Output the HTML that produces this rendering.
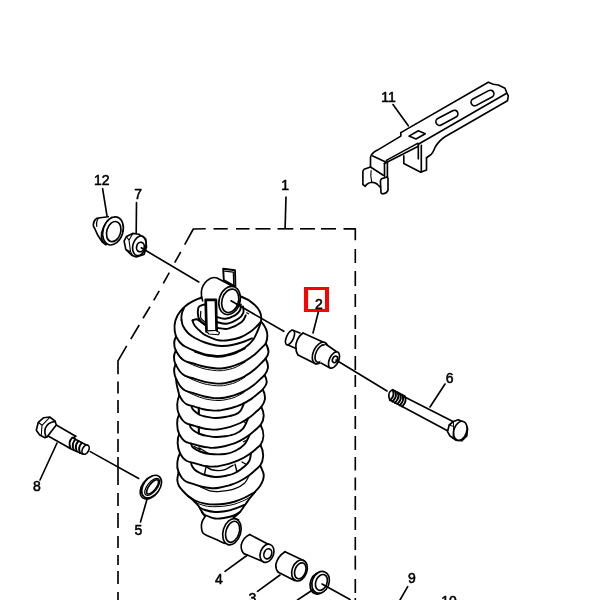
<!DOCTYPE html>
<html><head><meta charset="utf-8"><title>Rear shock absorber parts diagram</title>
<style>
html,body{margin:0;padding:0;background:#fff;}
svg{display:block}
.lb{font-family:"Liberation Sans",sans-serif;font-weight:400;fill:#000;stroke:#000;stroke-width:.55;stroke-linejoin:round}
</style></head><body>
<svg width="600" height="600" viewBox="0 0 600 600">
<rect width="600" height="600" fill="#fff"/>
<path d="M304 287H329V312H304Z M308.1 290V309H325V290Z" fill="#f00" fill-rule="evenodd"/>
<g style="filter:grayscale(1)" fill="none" stroke="#000" stroke-width="1.65" stroke-linecap="round" stroke-linejoin="round">
<g stroke-linecap="butt">
<line x1="213.5" y1="228.8" x2="227.7" y2="228.8"/>
<line x1="236.0" y1="228.8" x2="249.5" y2="228.8"/>
<line x1="255.5" y1="228.8" x2="270.5" y2="228.8"/>
<line x1="277.5" y1="228.8" x2="293.3" y2="228.8"/>
<line x1="300.0" y1="228.8" x2="315.0" y2="228.8"/>
<line x1="321.0" y1="228.8" x2="336.0" y2="228.8"/>
<path d="M343.5 228.8 L355.3 228.8 L355.3 240.3" fill="none" />
<line x1="355.3" y1="249.0" x2="355.3" y2="263.0"/>
<line x1="355.3" y1="271.0" x2="355.3" y2="286.0"/>
<line x1="355.3" y1="294.0" x2="355.3" y2="307.0"/>
<line x1="355.3" y1="315.0" x2="355.3" y2="329.0"/>
<line x1="355.3" y1="335.0" x2="355.3" y2="349.0"/>
<line x1="355.3" y1="356.0" x2="355.3" y2="370.0"/>
<line x1="355.3" y1="375.0" x2="355.3" y2="387.0"/>
<line x1="355.3" y1="395.0" x2="355.3" y2="409.0"/>
<line x1="355.3" y1="416.0" x2="355.3" y2="429.0"/>
<line x1="355.3" y1="436.0" x2="355.3" y2="450.0"/>
<line x1="355.3" y1="457.0" x2="355.3" y2="470.5"/>
<line x1="355.3" y1="477.5" x2="355.3" y2="490.3"/>
<line x1="355.3" y1="496.0" x2="355.3" y2="510.0"/>
<line x1="355.3" y1="517.0" x2="355.3" y2="530.0"/>
<line x1="355.3" y1="537.0" x2="355.3" y2="550.0"/>
<line x1="355.3" y1="555.7" x2="355.3" y2="569.7"/>
<line x1="355.3" y1="579.0" x2="355.3" y2="593.0"/>
<line x1="355.3" y1="598.0" x2="355.3" y2="600.0"/>
<path d="M205.7 228.8 L193.3 229 L184.7 244.7" fill="none" />
<line x1="180.7" y1="252.0" x2="174.7" y2="262.7"/>
<line x1="169.3" y1="272.7" x2="163.3" y2="283.3"/>
<line x1="159.2" y1="290.8" x2="153.7" y2="300.3"/>
<line x1="150.0" y1="306.7" x2="143.0" y2="318.3"/>
<line x1="139.2" y1="325.0" x2="130.8" y2="339.2"/>
<path d="M126.7 345.8 L118 360.8 L118 374.2" fill="none" />
<line x1="118.0" y1="381.5" x2="118.0" y2="393.6"/>
<line x1="118.0" y1="400.0" x2="118.0" y2="413.0"/>
<line x1="118.0" y1="421.0" x2="118.0" y2="433.6"/>
<line x1="118.0" y1="439.0" x2="118.0" y2="452.0"/>
<line x1="118.0" y1="457.0" x2="118.0" y2="485.0"/>
<line x1="118.0" y1="493.0" x2="118.0" y2="506.0"/>
<line x1="118.0" y1="513.0" x2="118.0" y2="528.0"/>
<line x1="118.0" y1="536.0" x2="118.0" y2="548.0"/>
<line x1="118.0" y1="555.0" x2="118.0" y2="565.0"/>
<line x1="118.0" y1="571.0" x2="118.0" y2="584.0"/>
<line x1="118.0" y1="592.0" x2="118.0" y2="600.0"/>
<line x1="286.0" y1="196.5" x2="285.1" y2="228.8"/>
</g>
<path d="M400.8 132.6 L488.3 82.2 L493.3 84.2 L498.3 85 L505 88.3 L506.7 92.5 L508.3 95.8 L507.5 100.8 L445 136.7 Q438.5 141 435 147.5 Q432.5 154 430 155.3 L426.5 157.7" fill="none" />
<path d="M506.7 93.3 L418.3 144.3" fill="none" />
<path d="M400.8 132.6 L400.8 136.1 L377.5 150.1 Q371 153.5 370.5 157.5 L370.5 167" fill="none" />
<path d="M372.8 155.9 L385.6 162 M384.5 163.6 L418.3 146.2" fill="none" />
<path d="M386.3 160.4 L418 143.2" fill="none" stroke-width="1.5" />
<path d="M384.5 163.2 L384.5 176.3" fill="none" />
<path d="M387.4 161.2 L387.4 177" fill="none" />
<path d="M370.5 167 L383.3 175.2" fill="none" />
<path d="M418.3 144.3 L418.3 158.8" fill="none" />
<path d="M421.3 145.4 L421.3 171.7" fill="none" />
<path d="M403.8 155.9 L403.8 163.5 L420.7 172.3 L426.5 169.9 L426.5 157.7" fill="none" />
<path d="M409 136.1 L418.3 130.8 L425.3 133.8 L416 139 Z" fill="none" />
<rect x="470.0" y="94.4" width="25" height="7.2" rx="3.6" ry="3.6" fill="none" transform="rotate(-28 482.5 98)"/>
<rect x="434.9" y="114.2" width="24" height="7.2" rx="3.6" ry="3.6" fill="none" transform="rotate(-28 446.9 117.8)"/>
<path d="M370.5 167 L364.1 169.3 Q362.9 170.3 362.9 171.7 L362.9 184.5 L365.3 186.3 Q366.5 183.3 371.7 182.2 Q376 182.5 377.5 184.5 L381 188" fill="none" />
<path d="M371.1 170.5 Q370.2 176.3 371.7 182.2" fill="none" stroke-width="1.1" />
<path d="M381.6 178.7 L387.4 176.9 Q388.2 178 388 179.8 L388 190.3 Q386.5 193.3 383.3 193.8 Q381.3 193.8 381 192.7 L380.4 181 Q380.6 179.3 381.6 178.7 Z" fill="#fff" />
<text x="388.5" y="102.0" font-size="14" text-anchor="middle" class="lb">11</text>
<line x1="393.0" y1="104.5" x2="408.3" y2="125.8"/>
<text x="101.8" y="185.4" font-size="14" text-anchor="middle" class="lb">12</text>
<line x1="102.6" y1="188.7" x2="107.0" y2="215.8"/>
<path d="M108.3 216.7 L100.2 217.8 L96.7 218.4 Q93.6 220.5 93.3 224.5 Q93.3 227 94.5 228 L97.8 235.3 L102.5 242.3 L106 244.5" fill="none" />
<path d="M98 219 Q95.8 222 96.7 226.5" fill="none" stroke-width="1.1" />
<path d="M111.8 217.3 Q104 223 101.6 233 Q100.5 241.5 106 244.7" fill="none" />
<ellipse cx="113.0" cy="230.9" rx="9.9" ry="14.4" fill="#fff" transform="rotate(17 113.0 230.9)"/>
<ellipse cx="113.7" cy="231.6" rx="6.9" ry="10.3" fill="none" transform="rotate(17 113.7 231.6)"/>
<text x="138.2" y="199.0" font-size="14" text-anchor="middle" class="lb">7</text>
<line x1="136.5" y1="202.5" x2="136.2" y2="233.0"/>
<path d="M132.8 233.4 L138.7 234.2 L145.7 238.9 L146.5 247 L144 254.5 L136.3 257 L131.7 255.2 L125.8 249.4 L124.1 241.2 L126.4 236.5 Z" fill="#fff" />
<path d="M126.4 236.5 L129 240.3 L132.8 233.4 M129 240.3 L130.5 251.8 L125.8 249.4 M130.5 251.8 L133 256" fill="none" stroke-width="1.1" />
<ellipse cx="139.3" cy="245.8" rx="6.4" ry="10.0" fill="#fff" transform="rotate(15 139.3 245.8)"/>
<ellipse cx="140.4" cy="247.0" rx="3.8" ry="4.8" fill="none" transform="rotate(15 140.4 247.0)"/>
<line x1="141.2" y1="247.8" x2="198.8" y2="282.0"/>
<path d="M205 516.5 L236 517.5 L241 534 L223.7 543.2 L204.4 534.8 Z" fill="#fff" stroke="none"/>
<path d="M205.0 516.5 C204.5 517.4 202.6 520.1 202.0 522.0 C201.4 523.9 201.3 526.2 201.5 528.0 C201.7 529.8 201.9 531.7 203.0 533.0 C204.1 534.3 206.0 535.0 208.0 536.0 C210.0 537.0 212.2 537.8 215.0 539.0 C217.8 540.2 222.9 542.6 224.5 543.3" fill="none" />
<path d="M233 518 L238.5 519.8" fill="none" />
<ellipse cx="231.9" cy="531.8" rx="8.8" ry="13.4" fill="#fff" transform="rotate(17 231.9 531.8)"/>
<ellipse cx="232.6" cy="531.8" rx="6.6" ry="10.8" fill="none" transform="rotate(17 232.6 531.8)"/>
<g stroke-width="1.9">
<path d="M 183 309 Q 174 318 174.5 330 L 176.5 480 Q 179 490 189 497 L 207 517 L 235 516 L 251 497 Q 262 487 264 477 L 266.5 325 Q 262 305 245 300 Q 215 290 183 309 Z" fill="#fff" stroke="none"/>
<path d="M176 336.5 Q172.3 325 177.5 315.5 Q186 301 206 296.5" fill="none" />
<path d="M181.5 320.0 C181.8 321.0 181.9 323.8 183.0 326.0 C184.1 328.2 186.0 331.0 188.0 333.0 C190.0 335.0 192.2 336.4 195.0 338.0 C197.8 339.6 201.7 341.3 205.0 342.5 C208.3 343.7 212.2 344.7 215.0 345.3 C217.8 345.9 219.2 346.1 222.0 346.0 C224.8 345.9 228.5 345.7 232.0 345.0 C235.5 344.3 239.7 343.1 243.0 342.0 C246.3 340.9 250.5 338.9 252.0 338.3" fill="none" />
<path d="M181.5 320 Q180.8 314 183.8 308.6" fill="none" />
<path d="M192.5 320.3 C192.6 320.7 192.8 321.7 193.2 322.6 C193.6 323.6 193.9 324.6 195.0 326.0 C196.1 327.4 198.3 329.5 200.0 331.0 C201.7 332.5 202.5 333.6 205.0 335.0 C207.5 336.4 212.5 338.4 215.0 339.3 C217.5 340.2 217.8 340.3 220.0 340.5 C222.2 340.7 224.7 340.8 228.0 340.3 C231.3 339.8 236.3 338.9 240.0 337.5 C243.7 336.1 247.2 333.9 250.0 332.0 C252.8 330.1 255.2 327.8 257.0 326.0 C258.8 324.2 260.3 322.2 261.0 321.5" fill="none" />
<path d="M261 321.5 Q262.8 312 254 304.2 Q248 299 241 296.5" fill="none" />
<path d="M192.5 320.3 C193.2 320.1 195.3 319.0 196.7 319.3 C198.1 319.6 199.5 321.0 201.0 322.0 C202.5 323.0 204.8 324.8 205.5 325.3" fill="none" />
<path d="M205.0 304.5 C204.4 304.6 202.6 304.8 201.5 305.3 C200.4 305.9 198.8 305.9 198.3 307.8 C197.8 309.8 197.7 314.6 198.3 317.0 C198.9 319.4 200.5 320.7 201.7 322.0 C202.9 323.3 204.9 324.2 205.5 324.6" fill="none" />
<path d="M200.8 311.5 C200.8 312.6 200.0 316.2 200.8 318.0 C201.6 319.8 204.7 321.7 205.5 322.4" fill="none" stroke-width="1.3" />
<path d="M216.7 317.0 C218.1 317.3 221.9 319.0 225.0 318.7 C228.1 318.4 232.5 316.7 235.0 315.3 C237.5 313.9 239.0 312.1 240.0 310.3 C241.0 308.5 240.7 305.5 240.8 304.5" fill="none" />
<path d="M216.7 322.0 C218.4 322.3 223.1 324.2 226.7 323.7 C230.3 323.1 235.5 320.5 238.3 318.7 C241.1 316.9 242.5 314.8 243.3 312.8 C244.1 310.8 243.1 307.6 243.0 306.5" fill="none" />
<path d="M216.7 327.8 C218.6 327.9 224.1 329.7 228.3 328.7 C232.5 327.7 238.8 324.2 241.7 322.0 C244.6 319.8 245.1 316.4 245.8 315.3" fill="none" />
<path d="M246.7 312.8 L248.5 313.8" fill="none" stroke-width="1.2" />
<path d="M176.0 336.5 C176.7 337.5 178.5 340.8 180.0 342.5 C181.5 344.2 182.5 345.1 185.0 346.5 C187.5 347.9 191.7 349.7 195.0 351.0 C198.3 352.3 201.7 353.5 205.0 354.3 C208.3 355.1 212.8 355.5 215.0 355.8 C217.2 356.1 216.3 356.1 218.0 356.0 C219.7 355.9 222.2 355.8 225.0 355.2 C227.8 354.6 231.7 353.8 235.0 352.5 C238.3 351.2 242.0 349.6 245.0 347.5 C248.0 345.4 250.8 342.9 253.0 340.0 C255.2 337.1 256.7 333.0 258.0 330.0 C259.3 327.0 260.5 323.3 261.0 322.0" fill="none" />
<path d="M195.0 352.0 C196.7 352.6 201.7 354.5 205.0 355.3 C208.3 356.1 212.8 356.5 215.0 356.8 C217.2 357.1 216.3 357.1 218.0 357.0 C219.7 356.9 222.2 356.8 225.0 356.2 C227.8 355.6 231.7 354.8 235.0 353.5 C238.3 352.2 243.3 349.3 245.0 348.5" fill="none" stroke-width="1.4" />
<path d="M176.0 336.5 C173.6 341.0 173.0 344.5 175.8 350.5" fill="none" />
<path d="M175.8 350.5 C176.5 351.6 178.5 355.2 180.0 357.0 C181.5 358.7 182.5 359.8 185.0 361.0 C187.5 362.2 191.7 363.0 195.0 364.0 C198.3 365.0 201.6 366.1 205.0 366.8 C208.3 367.5 212.5 368.0 215.0 368.3 C217.5 368.6 218.3 368.6 220.0 368.5 C221.7 368.4 222.5 368.5 225.0 368.0 C227.5 367.5 231.7 366.5 235.0 365.4 C238.4 364.2 241.7 363.0 245.0 361.1 C248.3 359.3 252.0 356.7 255.0 354.3 C258.0 351.8 261.2 348.2 263.0 346.4 C264.8 344.7 265.3 344.0 265.8 343.5 C268.2 337.5 268 329.5 261.8 322.3" fill="none" />
<path d="M185.0 361.2 C186.7 362.0 191.7 364.5 195.0 365.8 C198.3 367.1 201.6 368.2 205.0 369.0 C208.3 369.8 212.5 370.2 215.0 370.5 C217.5 370.8 218.3 370.8 220.0 370.7 C221.7 370.6 222.5 370.7 225.0 370.2 C227.5 369.7 231.7 368.9 235.0 367.6 C238.4 366.2 243.3 363.1 245.0 362.2" fill="none" stroke-width="1.0" />
<path d="M175.8 350.5 C173.4 355.0 172.8 358.5 175.6 364.5" fill="none" />
<path d="M175.6 364.5 C176.3 365.6 178.3 369.5 179.8 371.4 C181.4 373.3 182.3 374.4 184.8 375.6 C187.3 376.9 191.5 377.8 194.9 378.8 C198.2 379.9 201.6 381.0 204.9 381.8 C208.3 382.6 212.5 383.1 215.0 383.4 C217.5 383.7 218.3 383.6 220.0 383.6 C221.7 383.6 222.5 383.6 225.0 383.1 C227.5 382.6 231.6 381.6 235.0 380.5 C238.3 379.3 241.6 378.1 244.9 376.2 C248.2 374.4 251.9 371.8 254.8 369.3 C257.8 366.9 261.0 363.3 262.8 361.5 C264.6 359.7 265.1 359.0 265.6 358.5 C268.8 354.0 270.0 351.5 265.8 343.5" fill="none" />
<path d="M184.8 375.8 C186.5 376.6 191.5 379.3 194.9 380.6 C198.2 382.0 201.6 383.2 204.9 384.0 C208.3 384.8 212.5 385.3 215.0 385.6 C217.5 385.9 218.3 385.8 220.0 385.8 C221.7 385.8 222.5 385.8 225.0 385.3 C227.5 384.8 231.6 384.0 235.0 382.7 C238.3 381.3 243.2 378.2 244.9 377.3" fill="none" stroke-width="1.0" />
<path d="M175.6 364.5 C173.2 369.0 173.5 373.5 176.3 379.5" fill="none" />
<path d="M176.3 379.5 C177.0 380.6 178.9 384.5 180.4 386.3 C181.8 388.1 182.8 389.2 185.2 390.5 C187.6 391.7 191.6 392.6 194.8 393.6 C198.0 394.6 201.3 395.8 204.5 396.5 C207.7 397.3 211.8 397.8 214.2 398.1 C216.6 398.4 217.4 398.3 219.0 398.3 C220.6 398.3 221.5 398.3 224.0 397.8 C226.5 397.3 230.6 396.5 234.0 395.4 C237.3 394.3 240.6 393.2 243.9 391.4 C247.2 389.7 250.9 387.3 253.8 385.0 C256.8 382.8 260.0 379.4 261.8 377.7 C263.6 376.1 264.1 375.5 264.6 375.0 C267.8 370.5 269.8 366.5 265.6 358.5" fill="none" />
<path d="M185.2 390.6 C186.8 391.4 191.6 394.0 194.8 395.3 C198.0 396.7 201.3 397.9 204.5 398.7 C207.7 399.6 211.8 400.0 214.2 400.3 C216.6 400.6 217.4 400.5 219.0 400.5 C220.6 400.5 221.5 400.5 224.0 400.0 C226.5 399.5 230.6 398.8 234.0 397.6 C237.3 396.3 242.2 393.4 243.9 392.6" fill="none" stroke-width="1.0" />
<path d="M176.3 379.5 C175.7 384.0 178.3 389.6 179.3 395.6" fill="none" />
<path d="M179.3 395.6 C179.9 396.5 181.5 399.6 182.8 401.0 C184.1 402.5 184.9 403.4 186.9 404.3 C189.0 405.3 192.5 406.0 195.2 406.9 C198.0 407.7 200.8 408.6 203.5 409.2 C206.3 409.8 209.8 410.2 211.9 410.4 C213.9 410.7 214.5 410.6 216.0 410.6 C217.5 410.6 218.5 410.6 221.1 410.2 C223.7 409.7 227.9 408.9 231.4 408.0 C234.8 407.0 238.2 406.0 241.6 404.4 C245.0 402.8 248.7 400.7 251.8 398.6 C254.8 396.5 258.1 393.5 259.9 392.0 C261.8 390.5 262.3 389.9 262.8 389.5 C266.0 385.0 268.8 383.0 264.6 375.0" fill="none" />
<path d="M179.3 395.6 C176.9 400.1 176.2 408.6 179.0 414.6" fill="none" />
<path d="M179.0 414.6 C179.6 415.5 181.2 418.6 182.4 420.0 C183.7 421.5 184.5 422.4 186.5 423.3 C188.5 424.3 191.9 425.0 194.6 425.9 C197.3 426.7 200.0 427.6 202.8 428.2 C205.5 428.8 208.9 429.2 210.9 429.4 C213.0 429.7 213.5 429.6 215.0 429.6 C216.5 429.6 217.5 429.6 220.0 429.1 C222.6 428.7 226.8 427.8 230.2 426.8 C233.6 425.7 236.9 424.6 240.3 423.0 C243.6 421.3 247.3 419.0 250.4 416.7 C253.4 414.5 256.7 411.3 258.5 409.7 C260.3 408.0 260.8 407.4 261.3 407.0 C264.5 402.5 267.0 397.5 262.8 389.5" fill="none" />
<path d="M179.0 414.6 C176.6 419.1 176.4 428.2 179.2 434.2" fill="none" />
<path d="M179.2 434.2 C179.8 435.0 181.3 437.8 182.5 439.1 C183.7 440.4 184.5 441.2 186.4 442.1 C188.4 443.0 191.7 443.7 194.3 444.4 C196.9 445.1 199.5 446.0 202.2 446.5 C204.8 447.1 208.1 447.4 210.1 447.7 C212.0 447.9 212.5 447.9 214.0 447.8 C215.5 447.7 216.5 447.8 219.1 447.3 C221.6 446.9 225.9 446.0 229.3 444.9 C232.7 443.9 236.1 442.8 239.4 441.1 C242.8 439.4 246.6 437.1 249.6 434.8 C252.7 432.6 255.9 429.3 257.8 427.7 C259.6 426.1 260.1 425.4 260.6 425.0 C263.8 420.5 265.5 415.0 261.3 407.0" fill="none" />
<path d="M179.2 434.2 C176.8 438.7 177.2 447.2 180.0 453.2" fill="none" />
<path d="M180.0 453.2 C180.5 454.0 182.0 456.7 183.1 458.0 C184.3 459.3 185.0 460.1 186.9 461.0 C188.7 461.9 191.8 462.5 194.3 463.2 C196.8 464.0 199.3 464.8 201.8 465.3 C204.3 465.9 207.4 466.2 209.3 466.5 C211.1 466.7 211.5 466.6 213.0 466.6 C214.5 466.6 215.6 466.6 218.2 466.2 C220.8 465.7 225.1 464.9 228.6 463.9 C232.0 462.9 235.5 461.8 238.9 460.2 C242.4 458.7 246.2 456.4 249.3 454.3 C252.4 452.2 255.7 449.1 257.6 447.5 C259.5 446.0 260.0 445.4 260.5 445.0 C263.7 440.5 264.8 433.0 260.6 425.0" fill="none" />
<path d="M180.0 453.2 C177.6 457.7 175.8 466.2 178.6 472.2" fill="none" />
<path d="M178.6 472.2 C179.2 473.2 180.7 476.4 182.0 478.0 C183.2 479.5 184.0 480.5 186.0 481.5 C188.0 482.6 191.3 483.3 194.0 484.2 C196.6 485.1 199.3 486.1 202.0 486.7 C204.6 487.3 208.0 487.8 210.0 488.0 C212.0 488.3 212.5 488.2 214.0 488.2 C215.5 488.2 216.5 488.2 219.0 487.7 C221.6 487.3 225.8 486.4 229.2 485.4 C232.5 484.3 235.9 483.2 239.2 481.5 C242.6 479.8 246.3 477.5 249.3 475.3 C252.3 473.1 255.6 469.8 257.4 468.2 C259.2 466.5 259.7 465.9 260.2 465.5 C263.4 461.0 264.7 453.0 260.5 445.0" fill="none" />
<path d="M191.5 406.0 C191.6 406.4 191.7 407.6 192.3 408.5 C192.9 409.4 193.7 410.4 195.0 411.5 C196.3 412.6 198.3 414.2 200.0 415.0 C201.7 415.8 202.5 416.0 205.0 416.5 C207.5 417.0 211.7 417.9 215.0 418.0 C218.3 418.1 221.7 417.6 225.0 417.0 C228.3 416.4 232.4 415.6 235.0 414.6 C237.6 413.6 239.0 412.7 240.5 410.8 C242.0 408.9 243.4 404.6 244.0 403.3" fill="none" />
<line x1="198.8" y1="407.8" x2="198.8" y2="414.3" stroke-width="2.1"/>
<path d="M189.8 424.7 C190.0 425.2 190.1 426.9 191.0 428.0 C191.9 429.1 193.5 430.5 195.0 431.5 C196.5 432.5 198.3 433.3 200.0 434.0 C201.7 434.7 202.5 435.0 205.0 435.5 C207.5 436.0 211.7 436.9 215.0 437.0 C218.3 437.1 221.7 436.8 225.0 436.3 C228.3 435.8 232.0 435.3 235.0 434.0 C238.0 432.7 240.8 431.2 243.0 428.6 C245.2 426.0 247.2 420.2 248.0 418.5" fill="none" />
<line x1="198.8" y1="427.0" x2="198.8" y2="433.6" stroke-width="2.1"/>
<path d="M243.8 421.8 L246.6 423.2" fill="none" stroke-width="1.2" />
<path d="M191.0 443.7 C191.3 444.4 191.5 446.2 193.0 447.5 C194.5 448.8 197.2 450.4 200.0 451.5 C202.8 452.6 205.8 453.6 210.0 454.0 C214.2 454.4 220.8 454.5 225.0 454.0 C229.2 453.5 231.8 452.6 235.0 451.0 C238.2 449.4 242.1 446.9 244.5 444.3 C246.9 441.7 248.7 436.7 249.5 435.2" fill="none" />
<path d="M194 446.2 L200 449.8 M199 447.7 L208 453.2" fill="none" stroke-width="1.3" />
<path d="M243.5 441.8 L247 440" fill="none" stroke-width="1.2" />
<path d="M191.0 462.6 C191.2 463.1 191.3 464.8 192.0 466.0 C192.7 467.2 193.7 468.8 195.0 470.0 C196.3 471.2 198.3 472.2 200.0 473.0 C201.7 473.8 202.5 474.3 205.0 475.0 C207.5 475.7 211.7 476.8 215.0 477.0 C218.3 477.2 221.7 476.7 225.0 476.0 C228.3 475.3 231.7 474.7 235.0 473.0 C238.3 471.3 242.6 468.1 245.0 466.0 C247.4 463.9 248.5 462.6 249.5 460.5 C250.5 458.4 250.8 454.4 251.0 453.2" fill="none" />
<path d="M206 466.8 L204.5 474.5 M235 464.3 L237 472 M242 462 L246.5 464.5" fill="none" stroke-width="1.4" />
<path d="M207.0 467.2 C207.7 467.6 209.2 468.9 211.0 469.5 C212.8 470.1 215.7 470.6 218.0 470.6 C220.3 470.6 222.5 470.5 225.0 469.6 C227.5 468.7 231.7 466.0 233.0 465.3" fill="none" stroke-width="1.4" />
<path d="M199.0 486.1 C200.8 486.9 206.5 489.9 210.0 490.8 C213.5 491.7 215.8 491.8 220.0 491.4 C224.2 491.0 230.9 490.0 235.0 488.6 C239.1 487.2 242.2 485.4 244.5 483.3 C246.8 481.2 248.2 477.0 249.0 475.8" fill="none" stroke-width="1.2" />
<path d="M178.6 472.2 C178.4 473.5 177.2 477.7 177.3 480.0 C177.4 482.3 178.1 484.2 179.0 486.0 C179.9 487.8 181.5 489.3 183.0 491.0 C184.5 492.7 186.3 494.5 188.0 496.0 C189.7 497.5 191.2 498.2 193.0 500.0 C194.8 501.8 197.8 504.9 199.0 506.5 C200.2 508.1 199.5 507.9 200.5 509.5 C201.5 511.1 204.2 515.1 205.0 516.2" fill="none" />
<path d="M260.2 465.5 C260.8 466.9 263.1 471.6 263.6 474.0 C264.1 476.4 263.6 478.0 263.0 480.0 C262.4 482.0 261.3 484.0 260.0 486.0 C258.7 488.0 256.7 490.0 255.0 492.0 C253.3 494.0 251.7 495.8 250.0 498.0 C248.3 500.2 246.7 502.7 245.0 505.0 C243.3 507.3 241.8 509.9 240.0 512.0 C238.2 514.1 235.0 516.6 234.0 517.5" fill="none" />
<path d="M188.0 496.0 C189.2 496.8 192.2 499.2 195.0 500.5 C197.8 501.8 201.7 502.9 205.0 503.6 C208.3 504.3 211.7 504.5 215.0 504.5 C218.3 504.5 221.7 504.3 225.0 503.8 C228.3 503.3 231.7 502.6 235.0 501.5 C238.3 500.4 241.7 499.1 245.0 497.5 C248.3 495.9 253.3 492.9 255.0 492.0" fill="none" />
<path d="M194.0 502.0 C195.8 502.6 201.5 505.0 205.0 505.8 C208.5 506.6 211.7 506.7 215.0 506.7 C218.3 506.7 221.7 506.4 225.0 506.0 C228.3 505.6 231.7 505.0 235.0 504.0 C238.3 503.0 242.3 501.2 245.0 500.0 C247.7 498.8 250.0 497.1 251.0 496.5" fill="none" stroke-width="1.0" />
<path d="M199.5 507.5 C200.4 507.9 202.4 509.2 205.0 510.0 C207.6 510.8 211.7 511.8 215.0 512.0 C218.3 512.2 221.7 511.9 225.0 511.3 C228.3 510.8 231.8 509.8 235.0 508.7 C238.2 507.6 242.9 505.6 244.5 505.0" fill="none" />
<path d="M202.0 512.5 C202.5 512.9 202.8 514.0 205.0 515.0 C207.2 516.0 211.7 518.0 215.0 518.5 C218.3 519.0 221.8 518.3 225.0 517.8 C228.2 517.3 231.5 516.5 234.0 515.5 C236.5 514.5 239.0 512.6 240.0 512.0" fill="none" />
</g>
<path d="M217 278 L232.5 286.3 L229 314 L206 305 L202.5 300 L202 288 L208 280 Z" fill="#fff" stroke="none"/>
<path d="M223.2 268.7 L235 270.2 L235.4 286.5 L223.8 280.2 Z" fill="#fff" stroke-width="1.9" />
<path d="M224.6 271.2 L233.3 272.2 L233.7 284.5" fill="none" stroke-width="1.2" />
<path d="M232.6 286.3 L217 278 C210.5 275.8 202.3 282.5 201.4 291.5 Q201 297 202.6 300.8" fill="none" />
<ellipse cx="229.6" cy="300.5" rx="10.4" ry="14.4" fill="#fff" transform="rotate(17 229.6 300.5)"/>
<ellipse cx="230.2" cy="300.8" rx="8.2" ry="12.0" fill="none" transform="rotate(17 230.2 300.8)"/>
<path d="M205.7 299.8 L215.9 299.8 L216.6 331 L206.5 331.5 Z" fill="#fff" stroke-width="2.7" />
<path d="M216.5 331 L219.5 332.5 L218.5 334.8 L209 334 L206.6 331.6" fill="#fff" stroke-width="1.1" />
<line x1="231.0" y1="300.8" x2="283.8" y2="331.3"/>
<text x="319.0" y="308.5" font-size="14" text-anchor="middle" class="lb">2</text>
<line x1="318.3" y1="312.3" x2="313.0" y2="333.0"/>
<path d="M292 330 L300 333 L296 348.4 L288 345 Z" fill="#fff" stroke="none"/>
<path d="M292 330 L300 333" fill="none" />
<path d="M288 345 L296 348.4" fill="none" />
<ellipse cx="290.0" cy="337.6" rx="3.5" ry="7.9" fill="#fff" transform="rotate(25 290.0 337.6)"/>
<path d="M303 333 L324 342.4 L316 364 L298 355 Z" fill="#fff" stroke="none"/>
<path d="M303 333 L324 342.4" fill="none" />
<path d="M298 355 L316 364" fill="none" />
<path d="M303 333 Q297.5 337 296 344 Q295.3 351 298 355" fill="none" />
<ellipse cx="320.0" cy="353.0" rx="6.6" ry="11.6" fill="#fff" transform="rotate(25 320.0 353.0)"/>
<ellipse cx="321.0" cy="353.6" rx="5.0" ry="9.4" fill="none" transform="rotate(25 321.0 353.6)"/>
<path d="M325 343.8 L337 352 L330 368 L320 362.4 Z" fill="#fff" stroke="none"/>
<path d="M325.5 344 L337 352" fill="none" />
<path d="M321 363 L330 368" fill="none" />
<ellipse cx="334.0" cy="360.0" rx="4.6" ry="8.7" fill="#fff" transform="rotate(25 334.0 360.0)"/>
<ellipse cx="335.0" cy="359.4" rx="2.4" ry="3.4" fill="none" transform="rotate(25 335.0 359.4)"/>
<line x1="336.0" y1="360.0" x2="387.0" y2="391.0"/>
<text x="449.6" y="382.5" font-size="14" text-anchor="middle" class="lb">6</text>
<line x1="445.0" y1="384.0" x2="430.0" y2="407.0"/>
<path d="M393 390 L454 421.5 L448 431 L390.5 400.3 Z" fill="#fff" stroke="none"/>
<path d="M393 390 L404.5 396 L405.2 397.2 L453 421.6" fill="none" />
<line x1="390.5" y1="400.3" x2="448.0" y2="431.0"/>
<path d="M393 390 Q389.3 390.5 388.8 395 Q388.8 399 390.5 400.3" fill="none" />
<path d="M392.5 389.8 Q395.7 394.8 390.1 400.4" fill="none" stroke-width="1.9" />
<path d="M394.9 391.0 Q398.1 396.0 392.5 401.6" fill="none" stroke-width="1.9" />
<path d="M397.3 392.3 Q400.5 397.3 394.9 402.9" fill="none" stroke-width="1.9" />
<path d="M399.7 393.5 Q402.9 398.5 397.3 404.1" fill="none" stroke-width="1.9" />
<path d="M402.1 394.8 Q405.3 399.8 399.7 405.4" fill="none" stroke-width="1.9" />
<path d="M404.5 396.0 Q407.7 401.0 402.1 406.6" fill="none" stroke-width="1.9" />
<path d="M453.3 421.5 L458.3 419.7 L464.2 422.5 L467.6 428.3 L466.8 435.8 L461.7 440.8 L455.8 440.2 L450 436 L447.5 431.7 L449.2 425 Z" fill="#fff" />
<ellipse cx="460.3" cy="430.8" rx="6.4" ry="9.8" fill="#fff" transform="rotate(18 460.3 430.8)"/>
<path d="M449.2 425 L453.6 426.5 L453.3 421.5" fill="none" stroke-width="1.0" />
<path d="M453.6 426.5 L453 438" fill="none" stroke-width="1.0" />
<text x="37.0" y="491.0" font-size="14" text-anchor="middle" class="lb">8</text>
<line x1="40.0" y1="480.0" x2="57.0" y2="443.0"/>
<path d="M56.3 425 L75.7 436.3 L88 445 L83 454 L69 447.7 L46.3 435 Z" fill="#fff" stroke="none"/>
<line x1="56.3" y1="425.0" x2="75.7" y2="436.3"/>
<line x1="46.8" y1="435.3" x2="69.0" y2="447.7"/>
<path d="M75.7 436.3 L73 438 L87.2 445.6" fill="none" />
<path d="M69 447.7 L70.5 448.8 L82.5 454" fill="none" />
<ellipse cx="85.6" cy="449.6" rx="3.1" ry="5.0" fill="#fff" transform="rotate(28 85.6 449.6)"/>
<path d="M72.2 437.6 Q68.0 442.1 70.4 447.8" fill="none" stroke-width="1.9" />
<path d="M75.4 439.3 Q71.2 443.8 73.6 449.5" fill="none" stroke-width="1.9" />
<path d="M78.5 441.0 Q74.3 445.5 76.7 451.2" fill="none" stroke-width="1.9" />
<path d="M81.8 442.8 Q77.6 447.3 80.0 453.0" fill="none" stroke-width="1.9" />
<path d="M36.3 430.3 L38.3 422.3 L43.7 417.7 L49.7 417 L55 421 L56.3 425 L47 437 L45 437.7 L39.7 435 Z" fill="#fff" />
<path d="M55 421.5 Q47.5 422.5 45.3 428.3 Q44 434 46.5 437.2" fill="none" />
<path d="M38.3 422.3 L42 425.3 L49.7 417.4 M42 425.3 L41.3 435.5" fill="none" stroke-width="1.1" />
<line x1="90.3" y1="451.6" x2="138.7" y2="478.5"/>
<ellipse cx="150.3" cy="487.6" rx="8.4" ry="12.7" fill="#fff" transform="rotate(36 150.3 487.6)"/>
<ellipse cx="151.6" cy="486.6" rx="8.2" ry="12.6" fill="#fff" transform="rotate(36 151.6 486.6)"/>
<ellipse cx="152.2" cy="486.9" rx="4.9" ry="10.2" fill="none" transform="rotate(39 152.2 486.9)" stroke-width="1.2"/>
<ellipse cx="152.6" cy="486.9" rx="3.5" ry="8.6" fill="none" transform="rotate(38 152.6 486.9)"/>
<text x="138.3" y="535.0" font-size="14" text-anchor="middle" class="lb">5</text>
<line x1="140.5" y1="522.0" x2="147.0" y2="499.3"/>
<path d="M249.7 534.5 L269.5 545 L262.5 561.3 L244.5 554 Z" fill="#fff" stroke="none"/>
<line x1="249.7" y1="534.5" x2="269.6" y2="545.0"/>
<line x1="244.3" y1="553.8" x2="263.5" y2="561.8"/>
<path d="M249.7 534.5 Q243 537.5 241.2 545 Q240.8 551 244.3 553.8" fill="none" />
<ellipse cx="267.0" cy="553.3" rx="6.6" ry="9.4" fill="#fff" transform="rotate(20 267.0 553.3)"/>
<ellipse cx="267.8" cy="553.8" rx="3.8" ry="5.2" fill="none" transform="rotate(20 267.8 553.8)"/>
<text x="218.8" y="583.6" font-size="14" text-anchor="middle" class="lb">4</text>
<line x1="225.0" y1="571.3" x2="247.5" y2="555.0"/>
<path d="M285 551.7 L300 560 L293.8 579.5 L277.5 570 Z" fill="#fff" stroke="none"/>
<line x1="285.0" y1="551.7" x2="303.0" y2="560.3"/>
<line x1="278.3" y1="572.3" x2="294.5" y2="580.6"/>
<path d="M285 551.7 Q277.5 556.5 275.8 564.5 Q275.6 569.5 278.3 572.3" fill="none" />
<ellipse cx="299.5" cy="570.5" rx="7.4" ry="10.8" fill="#fff" transform="rotate(20 299.5 570.5)"/>
<ellipse cx="300.3" cy="570.8" rx="5.4" ry="8.2" fill="none" transform="rotate(20 300.3 570.8)"/>
<text x="252.5" y="602.5" font-size="14" text-anchor="middle" class="lb">3</text>
<line x1="257.5" y1="591.3" x2="280.0" y2="575.0"/>
<ellipse cx="319.0" cy="583.2" rx="8.6" ry="11.2" fill="#fff" transform="rotate(22 319.0 583.2)"/>
<ellipse cx="320.6" cy="582.3" rx="8.4" ry="11.2" fill="#fff" transform="rotate(22 320.6 582.3)"/>
<ellipse cx="321.4" cy="582.4" rx="5.6" ry="8.2" fill="none" transform="rotate(22 321.4 582.4)"/>
<line x1="322.0" y1="584.0" x2="350.0" y2="599.5"/>
<line x1="297.5" y1="600.0" x2="312.5" y2="590.0"/>
<text x="411.8" y="582.5" font-size="14" text-anchor="middle" class="lb">9</text>
<line x1="407.7" y1="586.7" x2="400.0" y2="600.0"/>
<text x="449.0" y="606.0" font-size="14" text-anchor="middle" class="lb">10</text>
<text x="285.2" y="190.4" font-size="14" text-anchor="middle" class="lb">1</text>
</g>
</svg>
</body></html>
